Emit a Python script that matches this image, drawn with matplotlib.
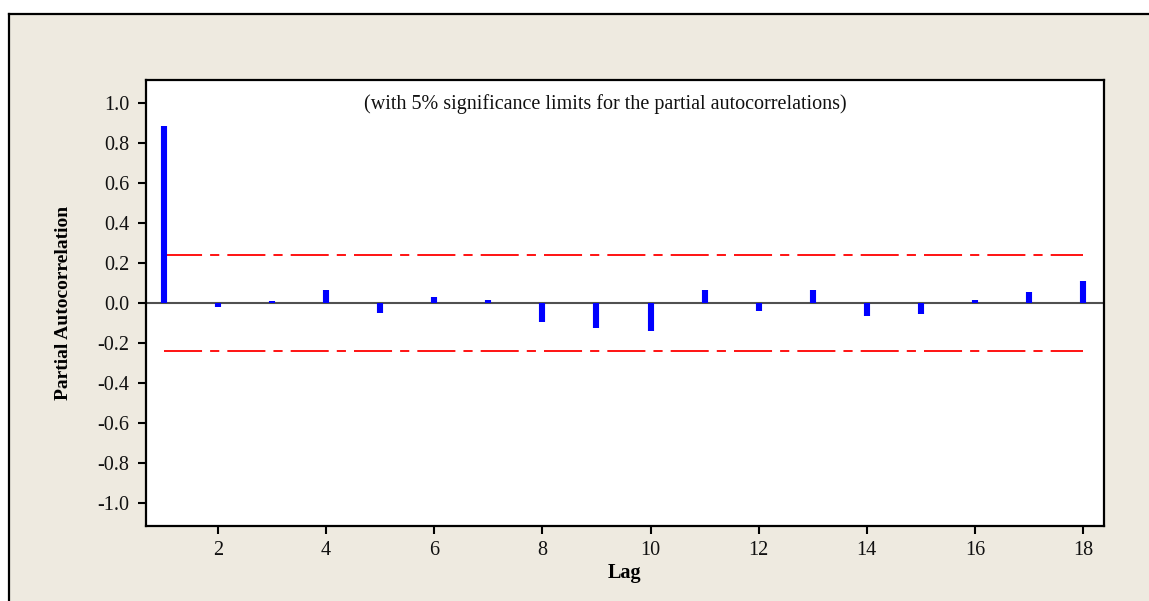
import matplotlib
matplotlib.use("Agg")
import matplotlib.pyplot as plt
from matplotlib.patches import Rectangle
from matplotlib.lines import Line2D

# ---- data ----
lags = [1, 2, 3, 4, 5, 6, 7, 8, 9, 10, 11, 12, 13, 14, 15, 16, 17, 18]
pacf = [0.886, -0.022, 0.010, 0.065, -0.048, 0.030, 0.015, -0.094, -0.124,
        -0.139, 0.064, -0.038, 0.065, -0.066, -0.055, 0.015, 0.055, 0.110]
sig_limit = 0.239
x_ticks = [2, 4, 6, 8, 10, 12, 14, 16, 18]
y_ticks = [-1.0, -0.8, -0.6, -0.4, -0.2, 0.0, 0.2, 0.4, 0.6, 0.8, 1.0]
title_text = "(with 5% significance limits for the partial autocorrelations)"
x_label = "Lag"
y_label = "Partial Autocorrelation"

plt.rcParams['font.family'] = ['Liberation Serif', 'DejaVu Serif']
plt.rcParams['lines.scale_dashes'] = False

W, H = 1149, 601
fig = plt.figure(figsize=(W / 100, H / 100), dpi=100, facecolor='white')

# beige panel with top/left border
bg = '#EEEAE0'
fig.patches.append(Rectangle((9 / W, 0), 1 - 9 / W, (H - 14) / H,
                             transform=fig.transFigure, facecolor=bg,
                             edgecolor='none', zorder=-10))
fig.lines.append(Line2D([9 / W, 1], [(H - 14) / H, (H - 14) / H],
                        transform=fig.transFigure, color='black', lw=1.6, zorder=-5))
fig.lines.append(Line2D([9 / W, 9 / W], [0, (H - 14) / H],
                        transform=fig.transFigure, color='black', lw=1.6, zorder=-5))

left, right, top, bottom = 146, 1104, 80, 526
ax = fig.add_axes([left / W, 1 - bottom / H, (right - left) / W, (bottom - top) / H])
ax.set_zorder(1)
ax.set_facecolor('white')

ax.set_xlim(0.668, 18.388)
ax.set_ylim(-1.117, 1.117)

# zero line
ax.axhline(0, color='#505050', lw=1.5, zorder=2)

# significance limits
for s in (sig_limit, -sig_limit):
    ln, = ax.plot([lags[0], lags[-1]], [s, s], color='#FF0000', lw=1.3, zorder=3)
    ln.set_dashes([27.4, 5.8, 6.6, 5.8])

# bars
ax.vlines(lags, 0, pacf, colors='#0000FF', linewidth=4.4, capstyle='butt', zorder=4)

ax.set_xticks(x_ticks)
ax.set_xticklabels([str(t) for t in x_ticks])
ax.set_yticks(y_ticks)
ax.set_yticklabels([f"{t:.1f}" for t in y_ticks])
ax.tick_params(axis='both', direction='out', length=6, width=1.5, color='black',
               labelsize=14.5, labelcolor='#111111')
ax.tick_params(axis='y', pad=6)
ax.tick_params(axis='x', pad=5)
for sp in ax.spines.values():
    sp.set_linewidth(1.6)
    sp.set_color('black')

ax.text(0.479, 0.946, title_text, transform=ax.transAxes, ha='center', va='center',
        fontsize=14.5, color='#111111')

ax.set_xlabel(x_label, fontsize=14.5, fontweight='bold', labelpad=2)
ax.set_ylabel(y_label, fontsize=14, fontweight='bold', labelpad=18)

fig.savefig('out.png', dpi=100, facecolor='white')
